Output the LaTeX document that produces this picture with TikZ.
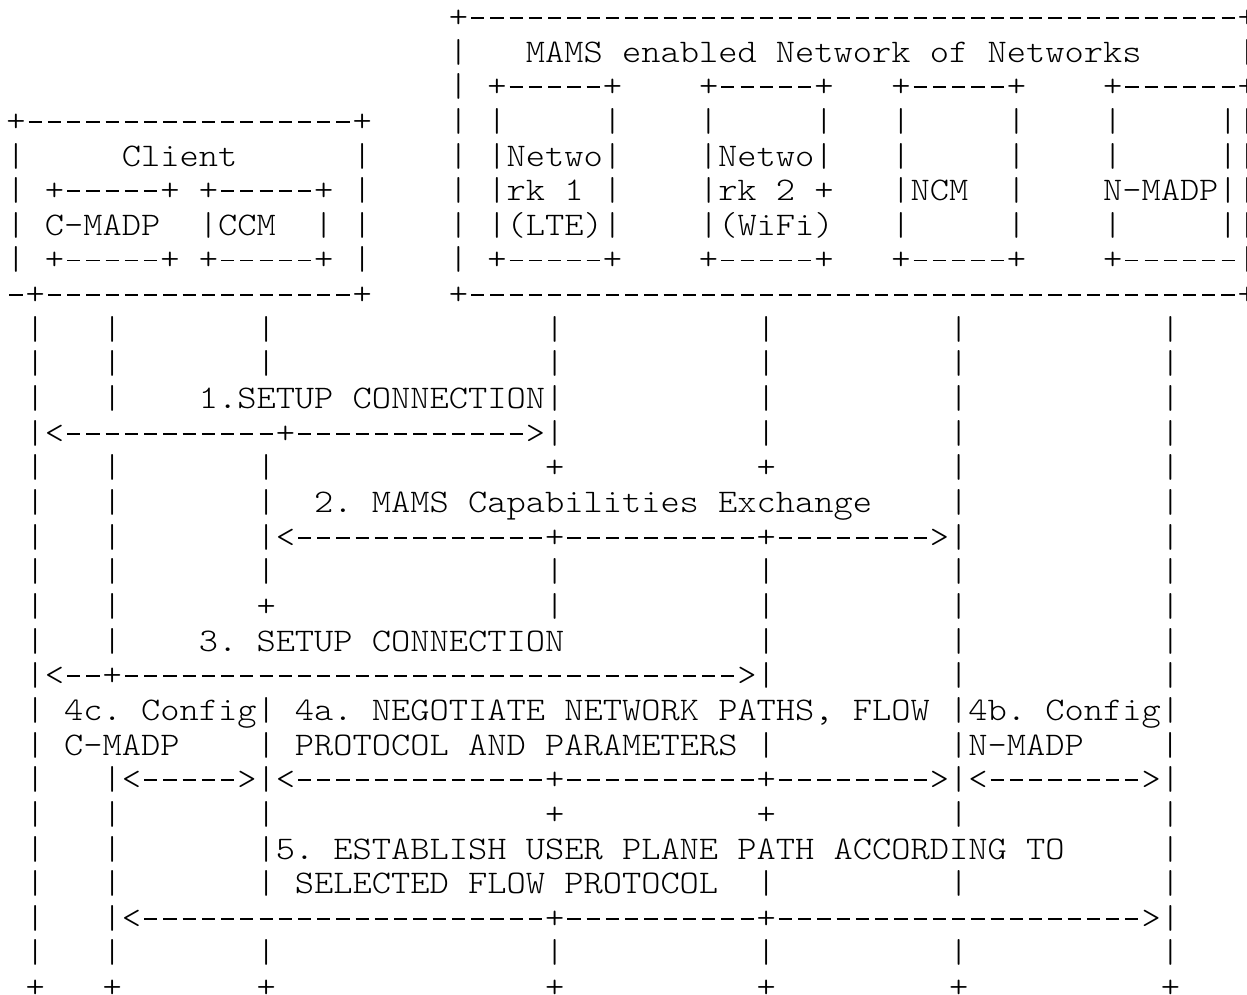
\documentclass[tikz,border=0pt]{standalone}
\newcommand\Dh[1]{\foreach\k in {1,...,#1}{\makebox[0.525em]{\rule[0.262em]{0.36em}{0.055em}}}}
\newcommand\Sp[1]{\foreach\k in {1,...,#1}{~}}
\tikzset{asc/.style={anchor=base west, inner sep=0pt, outer sep=0pt,
  font=\fontfamily{lmtt}\fontseries{l}\fontshape{n}\fontsize{16.5pt}{17.325pt}\selectfont\frenchspacing}}
\newcommand\Rw[3]{\node[asc] (row#1) at ({#2+0.3326},{#1-0.2092}) {\scalebox{1.1105}[1]{#3}};}
\begin{document}
\begin{tikzpicture}[x=9.62pt,y=-17.325pt]
\useasboundingbox (0,0) rectangle (64.813,28.687);
\fill[white] (0,0) rectangle (64.813,28.687);
\Rw{1}{23}{+\Dh{40}+}
\Rw{2}{23}{|\Sp{3}MAMS enabled Network of Networks\Sp{5}|}
\Rw{3}{23}{|~+\Dh{5}+\Sp{4}+\Dh{5}+\Sp{3}+\Dh{5}+\Sp{4}+\Dh{6}+}
\Rw{4}{0}{+\Dh{17}+\Sp{4}|~|\Sp{5}|\Sp{4}|\Sp{5}|\Sp{3}|\Sp{5}|\Sp{4}|\Sp{5}||}
\Rw{5}{0}{|\Sp{5}Client\Sp{6}|\Sp{4}|~|Netwo|\Sp{4}|Netwo|\Sp{3}|\Sp{5}|\Sp{4}|\Sp{5}||}
\Rw{6}{0}{|~+\Dh{5}+~+\Dh{5}+~|\Sp{4}|~|rk~1~|\Sp{4}|rk~2~+\Sp{3}|NCM\Sp{2}|\Sp{4}N-MADP||}
\Rw{7}{0}{|~C-MADP\Sp{2}|CCM\Sp{2}|~|\Sp{4}|~|(LTE)|\Sp{4}|(WiFi)\Sp{3}|\Sp{5}|\Sp{4}|\Sp{5}||}
\Rw{8}{0}{|~+\Dh{5}+~+\Dh{5}+~|\Sp{4}|~+\Dh{5}+\Sp{4}+\Dh{5}+\Sp{3}+\Dh{5}+\Sp{4}+\Dh{6}|}
\Rw{9}{0}{\Dh{1}+\Dh{16}+\Sp{4}+\Dh{40}+}
\Rw{10}{1}{|\Sp{3}|\Sp{7}|\Sp{14}|\Sp{10}|\Sp{9}|\Sp{10}|}
\Rw{11}{1}{|\Sp{3}|\Sp{7}|\Sp{14}|\Sp{10}|\Sp{9}|\Sp{10}|}
\Rw{12}{1}{|\Sp{3}|\Sp{4}1.SETUP CONNECTION|\Sp{10}|\Sp{9}|\Sp{10}|}
\Rw{13}{1}{|<\Dh{11}+\Dh{12}>|\Sp{10}|\Sp{9}|\Sp{10}|}
\Rw{14}{1}{|\Sp{3}|\Sp{7}|\Sp{14}+\Sp{10}+\Sp{9}|\Sp{10}|}
\Rw{15}{1}{|\Sp{3}|\Sp{7}|\Sp{2}2. MAMS Capabilities Exchange\Sp{4}|\Sp{10}|}
\Rw{16}{1}{|\Sp{3}|\Sp{7}|<\Dh{13}+\Dh{10}+\Dh{8}>|\Sp{10}|}
\Rw{17}{1}{|\Sp{3}|\Sp{7}|\Sp{14}|\Sp{10}|\Sp{9}|\Sp{10}|}
\Rw{18}{1}{|\Sp{3}|\Sp{7}+\Sp{14}|\Sp{10}|\Sp{9}|\Sp{10}|}
\Rw{19}{1}{|\Sp{3}|\Sp{4}3. SETUP CONNECTION\Sp{10}|\Sp{9}|\Sp{10}|}
\Rw{20}{1}{|<\Dh{2}+\Dh{32}>|\Sp{9}|\Sp{10}|}
\Rw{21}{1}{|~4c. Conf\kern0pt ig|~4a. NEGOTIATE NETWORK PATHS, FLOW~|4b. Conf\kern0pt ig|}
\Rw{22}{1}{|~C-MADP\Sp{4}|~PROTOCOL AND PARAMETERS~|\Sp{9}|N-MADP\Sp{4}|}
\Rw{23}{1}{|\Sp{3}|<\Dh{5}>|<\Dh{13}+\Dh{10}+\Dh{8}>|<\Dh{8}>|}
\Rw{24}{1}{|\Sp{3}|\Sp{7}|\Sp{14}+\Sp{10}+\Sp{9}|\Sp{10}|}
\Rw{25}{1}{|\Sp{3}|\Sp{7}|5. ESTABLISH USER PLANE PATH ACCORDING TO\Sp{5}|}
\Rw{26}{1}{|\Sp{3}|\Sp{7}|~SELECTED FLOW PROTOCOL\Sp{2}|\Sp{9}|\Sp{10}|}
\Rw{27}{1}{|\Sp{3}|<\Dh{21}+\Dh{10}+\Dh{19}>|}
\Rw{28}{1}{|\Sp{3}|\Sp{7}|\Sp{14}|\Sp{10}|\Sp{9}|\Sp{10}|}
\Rw{29}{1}{+\Sp{3}+\Sp{7}+\Sp{14}+\Sp{10}+\Sp{9}+\Sp{10}+}
\end{tikzpicture}
\end{document}
